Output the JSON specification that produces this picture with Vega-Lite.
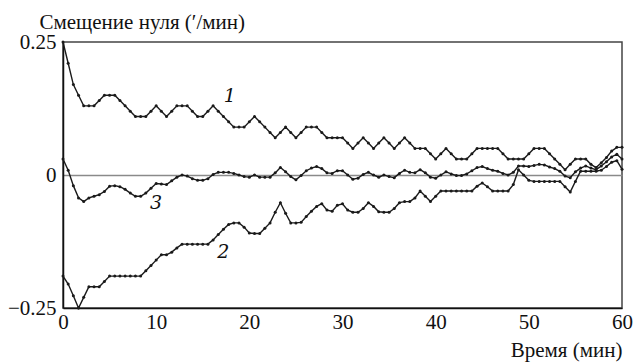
{
"$schema": "https://vega.github.io/schema/vega-lite/v6.json",
"width": 559, "height": 266,
"autosize": {"type": "none"},
"padding": {"left": 63, "top": 42, "right": 11, "bottom": 55},
"background": "white",
"config": {"view": {"stroke": "#444", "strokeWidth": 1.5}, "font": "Times New Roman"},
"datasets": {
"labels": [{"t": 17.9, "v": 0.149, "lab": "1"}, {"t": 17.2, "v": -0.144, "lab": "2"}, {"t": 10.0, "v": -0.052, "lab": "3"}],
"xticks": [{"t": 10}, {"t": 20}, {"t": 30}, {"t": 40}, {"t": 50}],
"curves": [
{"s":"1","t":0,"v":0.25},{"s":"1","t":0.556,"v":0.21},{"s":"1","t":1.111,"v":0.17},{"s":"1","t":1.667,"v":0.15},{"s":"1","t":2.222,"v":0.13},{"s":"1","t":2.778,"v":0.13},{"s":"1","t":3.333,"v":0.13},{"s":"1","t":3.889,"v":0.14},{"s":"1","t":4.444,"v":0.15},{"s":"1","t":5,"v":0.15},
{"s":"1","t":5.556,"v":0.15},{"s":"1","t":6.111,"v":0.14},{"s":"1","t":6.667,"v":0.13},{"s":"1","t":7.222,"v":0.12},{"s":"1","t":7.778,"v":0.11},{"s":"1","t":8.333,"v":0.11},{"s":"1","t":8.889,"v":0.11},{"s":"1","t":9.444,"v":0.12},{"s":"1","t":10,"v":0.13},
{"s":"1","t":10.556,"v":0.12},{"s":"1","t":11.111,"v":0.11},{"s":"1","t":11.667,"v":0.12},{"s":"1","t":12.222,"v":0.13},{"s":"1","t":12.778,"v":0.13},{"s":"1","t":13.333,"v":0.13},{"s":"1","t":13.889,"v":0.12},{"s":"1","t":14.444,"v":0.11},{"s":"1","t":15,"v":0.11},
{"s":"1","t":15.556,"v":0.12},{"s":"1","t":16.111,"v":0.13},{"s":"1","t":16.667,"v":0.12},{"s":"1","t":17.222,"v":0.11},{"s":"1","t":17.778,"v":0.10},{"s":"1","t":18.333,"v":0.09},{"s":"1","t":18.889,"v":0.09},{"s":"1","t":19.444,"v":0.09},{"s":"1","t":20,"v":0.10},
{"s":"1","t":20.556,"v":0.11},{"s":"1","t":21.111,"v":0.10},{"s":"1","t":21.667,"v":0.09},{"s":"1","t":22.222,"v":0.08},{"s":"1","t":22.778,"v":0.07},{"s":"1","t":23.333,"v":0.08},{"s":"1","t":23.889,"v":0.09},{"s":"1","t":24.444,"v":0.08},{"s":"1","t":25,"v":0.07},
{"s":"1","t":25.556,"v":0.08},{"s":"1","t":26.111,"v":0.09},{"s":"1","t":26.667,"v":0.09},{"s":"1","t":27.222,"v":0.09},{"s":"1","t":27.778,"v":0.08},{"s":"1","t":28.333,"v":0.07},{"s":"1","t":28.889,"v":0.07},{"s":"1","t":29.444,"v":0.07},{"s":"1","t":30,"v":0.07},
{"s":"1","t":30.556,"v":0.06},{"s":"1","t":31.111,"v":0.05},{"s":"1","t":31.667,"v":0.06},{"s":"1","t":32.222,"v":0.07},{"s":"1","t":32.778,"v":0.06},{"s":"1","t":33.333,"v":0.05},{"s":"1","t":33.889,"v":0.06},{"s":"1","t":34.444,"v":0.07},{"s":"1","t":35,"v":0.06},
{"s":"1","t":35.556,"v":0.05},{"s":"1","t":36.111,"v":0.06},{"s":"1","t":36.667,"v":0.07},{"s":"1","t":37.222,"v":0.06},{"s":"1","t":37.778,"v":0.05},{"s":"1","t":38.333,"v":0.05},{"s":"1","t":38.889,"v":0.05},{"s":"1","t":39.444,"v":0.04},{"s":"1","t":40,"v":0.03},
{"s":"1","t":40.556,"v":0.04},{"s":"1","t":41.111,"v":0.05},{"s":"1","t":41.667,"v":0.04},{"s":"1","t":42.222,"v":0.03},{"s":"1","t":42.778,"v":0.03},{"s":"1","t":43.333,"v":0.03},{"s":"1","t":43.889,"v":0.04},{"s":"1","t":44.444,"v":0.05},{"s":"1","t":45,"v":0.05},
{"s":"1","t":45.556,"v":0.05},{"s":"1","t":46.111,"v":0.05},{"s":"1","t":46.667,"v":0.05},{"s":"1","t":47.222,"v":0.04},{"s":"1","t":47.778,"v":0.03},{"s":"1","t":48.333,"v":0.03},{"s":"1","t":48.889,"v":0.03},{"s":"1","t":49.444,"v":0.03},{"s":"1","t":50,"v":0.04},
{"s":"1","t":50.556,"v":0.05},{"s":"1","t":51.111,"v":0.05},{"s":"1","t":51.667,"v":0.05},{"s":"1","t":52.222,"v":0.04},{"s":"1","t":52.778,"v":0.03},{"s":"1","t":53.333,"v":0.02},{"s":"1","t":53.889,"v":0.01},{"s":"1","t":54.444,"v":0.02},{"s":"1","t":55,"v":0.03},
{"s":"1","t":55.556,"v":0.03},{"s":"1","t":56.111,"v":0.03},{"s":"1","t":56.667,"v":0.02},{"s":"1","t":57.222,"v":0.014},{"s":"1","t":57.778,"v":0.023},{"s":"1","t":58.333,"v":0.033},{"s":"1","t":58.889,"v":0.045},{"s":"1","t":59.444,"v":0.052},{"s":"1","t":60,"v":0.052},

{"s":"2","t":0,"v":-0.19},{"s":"2","t":0.556,"v":-0.205},{"s":"2","t":1.111,"v":-0.227},{"s":"2","t":1.667,"v":-0.25},{"s":"2","t":2.222,"v":-0.23},{"s":"2","t":2.778,"v":-0.21},{"s":"2","t":3.333,"v":-0.21},{"s":"2","t":3.889,"v":-0.21},{"s":"2","t":4.444,"v":-0.20},{"s":"2","t":5,"v":-0.19},
{"s":"2","t":5.556,"v":-0.19},{"s":"2","t":6.111,"v":-0.19},{"s":"2","t":6.667,"v":-0.19},{"s":"2","t":7.222,"v":-0.19},{"s":"2","t":7.778,"v":-0.19},{"s":"2","t":8.333,"v":-0.19},{"s":"2","t":8.889,"v":-0.18},{"s":"2","t":9.444,"v":-0.17},{"s":"2","t":10,"v":-0.16},
{"s":"2","t":10.556,"v":-0.15},{"s":"2","t":11.111,"v":-0.15},{"s":"2","t":11.667,"v":-0.145},{"s":"2","t":12.222,"v":-0.137},{"s":"2","t":12.778,"v":-0.13},{"s":"2","t":13.333,"v":-0.13},{"s":"2","t":13.889,"v":-0.13},{"s":"2","t":14.444,"v":-0.13},{"s":"2","t":15,"v":-0.13},
{"s":"2","t":15.556,"v":-0.13},{"s":"2","t":16.111,"v":-0.122},{"s":"2","t":16.667,"v":-0.112},{"s":"2","t":17.222,"v":-0.102},{"s":"2","t":17.778,"v":-0.093},{"s":"2","t":18.333,"v":-0.09},{"s":"2","t":18.889,"v":-0.09},{"s":"2","t":19.444,"v":-0.098},{"s":"2","t":20,"v":-0.109},
{"s":"2","t":20.556,"v":-0.11},{"s":"2","t":21.111,"v":-0.11},{"s":"2","t":21.667,"v":-0.10},{"s":"2","t":22.222,"v":-0.09},{"s":"2","t":22.778,"v":-0.07},{"s":"2","t":23.333,"v":-0.052},{"s":"2","t":23.889,"v":-0.072},{"s":"2","t":24.444,"v":-0.09},{"s":"2","t":25,"v":-0.09},
{"s":"2","t":25.556,"v":-0.089},{"s":"2","t":26.111,"v":-0.078},{"s":"2","t":26.667,"v":-0.068},{"s":"2","t":27.222,"v":-0.059},{"s":"2","t":27.778,"v":-0.054},{"s":"2","t":28.333,"v":-0.066},{"s":"2","t":28.889,"v":-0.068},{"s":"2","t":29.444,"v":-0.057},{"s":"2","t":30,"v":-0.054},
{"s":"2","t":30.556,"v":-0.066},{"s":"2","t":31.111,"v":-0.07},{"s":"2","t":31.667,"v":-0.07},{"s":"2","t":32.222,"v":-0.063},{"s":"2","t":32.778,"v":-0.052},{"s":"2","t":33.333,"v":-0.059},{"s":"2","t":33.889,"v":-0.069},{"s":"2","t":34.444,"v":-0.07},{"s":"2","t":35,"v":-0.07},
{"s":"2","t":35.556,"v":-0.063},{"s":"2","t":36.111,"v":-0.052},{"s":"2","t":36.667,"v":-0.05},{"s":"2","t":37.222,"v":-0.05},{"s":"2","t":37.778,"v":-0.043},{"s":"2","t":38.333,"v":-0.03},{"s":"2","t":38.889,"v":-0.04},{"s":"2","t":39.444,"v":-0.05},{"s":"2","t":40,"v":-0.04},
{"s":"2","t":40.556,"v":-0.03},{"s":"2","t":41.111,"v":-0.03},{"s":"2","t":41.667,"v":-0.03},{"s":"2","t":42.222,"v":-0.03},{"s":"2","t":42.778,"v":-0.03},{"s":"2","t":43.333,"v":-0.03},{"s":"2","t":43.889,"v":-0.03},{"s":"2","t":44.444,"v":-0.021},{"s":"2","t":45,"v":-0.015},
{"s":"2","t":45.556,"v":-0.022},{"s":"2","t":46.111,"v":-0.03},{"s":"2","t":46.667,"v":-0.03},{"s":"2","t":47.222,"v":-0.03},{"s":"2","t":47.778,"v":-0.03},{"s":"2","t":48.333,"v":-0.018},{"s":"2","t":48.889,"v":0.01},{"s":"2","t":49.444,"v":0.0},{"s":"2","t":50,"v":-0.01},
{"s":"2","t":50.556,"v":-0.012},{"s":"2","t":51.111,"v":-0.012},{"s":"2","t":51.667,"v":-0.012},{"s":"2","t":52.222,"v":-0.012},{"s":"2","t":52.778,"v":-0.012},{"s":"2","t":53.333,"v":-0.012},{"s":"2","t":53.889,"v":-0.022},{"s":"2","t":54.444,"v":-0.032},{"s":"2","t":55,"v":-0.012},
{"s":"2","t":55.556,"v":0.007},{"s":"2","t":56.111,"v":0.007},{"s":"2","t":56.667,"v":0.007},{"s":"2","t":57.222,"v":0.007},{"s":"2","t":57.778,"v":0.009},{"s":"2","t":58.333,"v":0.016},{"s":"2","t":58.889,"v":0.024},{"s":"2","t":59.444,"v":0.027},{"s":"2","t":60,"v":0.011},

{"s":"3","t":0,"v":0.03},{"s":"3","t":0.556,"v":0.009},{"s":"3","t":1.111,"v":-0.02},{"s":"3","t":1.667,"v":-0.043},{"s":"3","t":2.222,"v":-0.05},{"s":"3","t":2.778,"v":-0.043},{"s":"3","t":3.333,"v":-0.04},{"s":"3","t":3.889,"v":-0.037},{"s":"3","t":4.444,"v":-0.031},{"s":"3","t":5,"v":-0.021},
{"s":"3","t":5.556,"v":-0.02},{"s":"3","t":6.111,"v":-0.022},{"s":"3","t":6.667,"v":-0.027},{"s":"3","t":7.222,"v":-0.034},{"s":"3","t":7.778,"v":-0.04},{"s":"3","t":8.333,"v":-0.04},{"s":"3","t":8.889,"v":-0.034},{"s":"3","t":9.444,"v":-0.025},{"s":"3","t":10,"v":-0.016},
{"s":"3","t":10.556,"v":-0.017},{"s":"3","t":11.111,"v":-0.018},{"s":"3","t":11.667,"v":-0.011},{"s":"3","t":12.222,"v":-0.004},{"s":"3","t":12.778,"v":0.0},{"s":"3","t":13.333,"v":-0.002},{"s":"3","t":13.889,"v":-0.007},{"s":"3","t":14.444,"v":-0.01},{"s":"3","t":15,"v":-0.01},
{"s":"3","t":15.556,"v":-0.007},{"s":"3","t":16.111,"v":0.001},{"s":"3","t":16.667,"v":0.005},{"s":"3","t":17.222,"v":0.005},{"s":"3","t":17.778,"v":0.005},{"s":"3","t":18.333,"v":0.003},{"s":"3","t":18.889,"v":0.0},{"s":"3","t":19.444,"v":-0.003},{"s":"3","t":20,"v":-0.004},
{"s":"3","t":20.556,"v":0.0},{"s":"3","t":21.111,"v":-0.004},{"s":"3","t":21.667,"v":-0.004},{"s":"3","t":22.222,"v":-0.004},{"s":"3","t":22.778,"v":0.004},{"s":"3","t":23.333,"v":0.014},{"s":"3","t":23.889,"v":0.006},{"s":"3","t":24.444,"v":-0.003},{"s":"3","t":25,"v":-0.009},
{"s":"3","t":25.556,"v":-0.001},{"s":"3","t":26.111,"v":0.008},{"s":"3","t":26.667,"v":0.013},{"s":"3","t":27.222,"v":0.016},{"s":"3","t":27.778,"v":0.012},{"s":"3","t":28.333,"v":0.004},{"s":"3","t":28.889,"v":0.003},{"s":"3","t":29.444,"v":0.008},{"s":"3","t":30,"v":0.008},
{"s":"3","t":30.556,"v":0.0},{"s":"3","t":31.111,"v":-0.008},{"s":"3","t":31.667,"v":-0.006},{"s":"3","t":32.222,"v":0.001},{"s":"3","t":32.778,"v":0.005},{"s":"3","t":33.333,"v":0.0},{"s":"3","t":33.889,"v":-0.004},{"s":"3","t":34.444,"v":0.0},{"s":"3","t":35,"v":-0.003},
{"s":"3","t":35.556,"v":-0.005},{"s":"3","t":36.111,"v":0.003},{"s":"3","t":36.667,"v":0.009},{"s":"3","t":37.222,"v":0.005},{"s":"3","t":37.778,"v":0.004},{"s":"3","t":38.333,"v":0.01},{"s":"3","t":38.889,"v":0.004},{"s":"3","t":39.444,"v":-0.004},{"s":"3","t":40,"v":-0.006},
{"s":"3","t":40.556,"v":0.0},{"s":"3","t":41.111,"v":0.006},{"s":"3","t":41.667,"v":0.002},{"s":"3","t":42.222,"v":-0.001},{"s":"3","t":42.778,"v":-0.001},{"s":"3","t":43.333,"v":0.002},{"s":"3","t":43.889,"v":0.008},{"s":"3","t":44.444,"v":0.014},{"s":"3","t":45,"v":0.016},
{"s":"3","t":45.556,"v":0.012},{"s":"3","t":46.111,"v":0.009},{"s":"3","t":46.667,"v":0.007},{"s":"3","t":47.222,"v":0.003},{"s":"3","t":47.778,"v":0.0},{"s":"3","t":48.333,"v":0.005},{"s":"3","t":48.889,"v":0.017},{"s":"3","t":49.444,"v":0.017},{"s":"3","t":50,"v":0.016},
{"s":"3","t":50.556,"v":0.018},{"s":"3","t":51.111,"v":0.02},{"s":"3","t":51.667,"v":0.019},{"s":"3","t":52.222,"v":0.015},{"s":"3","t":52.778,"v":0.012},{"s":"3","t":53.333,"v":0.007},{"s":"3","t":53.889,"v":-0.002},{"s":"3","t":54.444,"v":-0.005},{"s":"3","t":55,"v":0.006},
{"s":"3","t":55.556,"v":0.013},{"s":"3","t":56.111,"v":0.017},{"s":"3","t":56.667,"v":0.013},{"s":"3","t":57.222,"v":0.01},{"s":"3","t":57.778,"v":0.017},{"s":"3","t":58.333,"v":0.025},{"s":"3","t":58.889,"v":0.034},{"s":"3","t":59.444,"v":0.039},{"s":"3","t":60,"v":0.03}
]
},
"encoding": {
"x": {"field": "t", "type": "quantitative", "scale": {"domain": [0, 60], "nice": false},
 "axis": {"values": [0, 10, 20, 30, 40, 50, 60], "format": "d", "grid": false, "domainColor": "#111", "domainWidth": 1.5,
  "ticks": false, "labelPadding": 3, "labelFontSize": 21, "labelColor": "#111", "labelFont": "Times New Roman",
  "labelFlush": false, "labelOverlap": false, "labelBound": false,
  "title": "Время (мин)", "titleFont": "Times New Roman", "titleFontSize": 21, "titleFontWeight": "normal", "titleColor": "#111",
  "titleAnchor": "end", "titleAlign": "right", "titleBaseline": "alphabetic", "titleX": 559, "titleY": 48}},
"y": {"field": "v", "type": "quantitative", "scale": {"domain": [-0.25, 0.25], "nice": false, "zero": false},
 "axis": {"values": [-0.25, 0, 0.25], "format": ".2~f", "domainColor": "#111", "domainWidth": 1.5, "ticks": false, "labelPadding": 7,
  "labelFontSize": 21, "labelColor": "#111", "labelFont": "Times New Roman", "labelFlush": false, "labelOverlap": false, "labelBound": false,
  "grid": true, "gridColor": {"condition": {"test": "datum.value === 0", "value": "#8a8a8a"}, "value": "transparent"}, "gridWidth": 1.5,
  "title": "Смещение нуля (′/мин)", "titleFont": "Times New Roman", "titleFontSize": 21, "titleFontWeight": "normal", "titleColor": "#111",
  "titleAngle": 0, "titleAlign": "left", "titleBaseline": "alphabetic", "titleX": -24, "titleY": -14}}
},
"layer": [
{"data": {"name": "xticks"}, "mark": {"type": "rule", "color": "#111", "strokeWidth": 1.3}, "encoding": {"y": {"datum": -0.25}, "y2": {"datum": -0.2385}}},
{"data": {"name": "curves"}, "mark": {"type": "line", "color": "#1a1a1a", "strokeWidth": 1.4}, "encoding": {"detail": {"field": "s"}}},
{"data": {"name": "curves"}, "mark": {"type": "circle", "color": "#1a1a1a", "size": 9, "opacity": 1}},
{"data": {"name": "labels"}, "mark": {"type": "text", "font": "DejaVu Serif", "fontStyle": "italic", "fontSize": 19, "color": "#111"}, "encoding": {"text": {"field": "lab"}}}
]
}
